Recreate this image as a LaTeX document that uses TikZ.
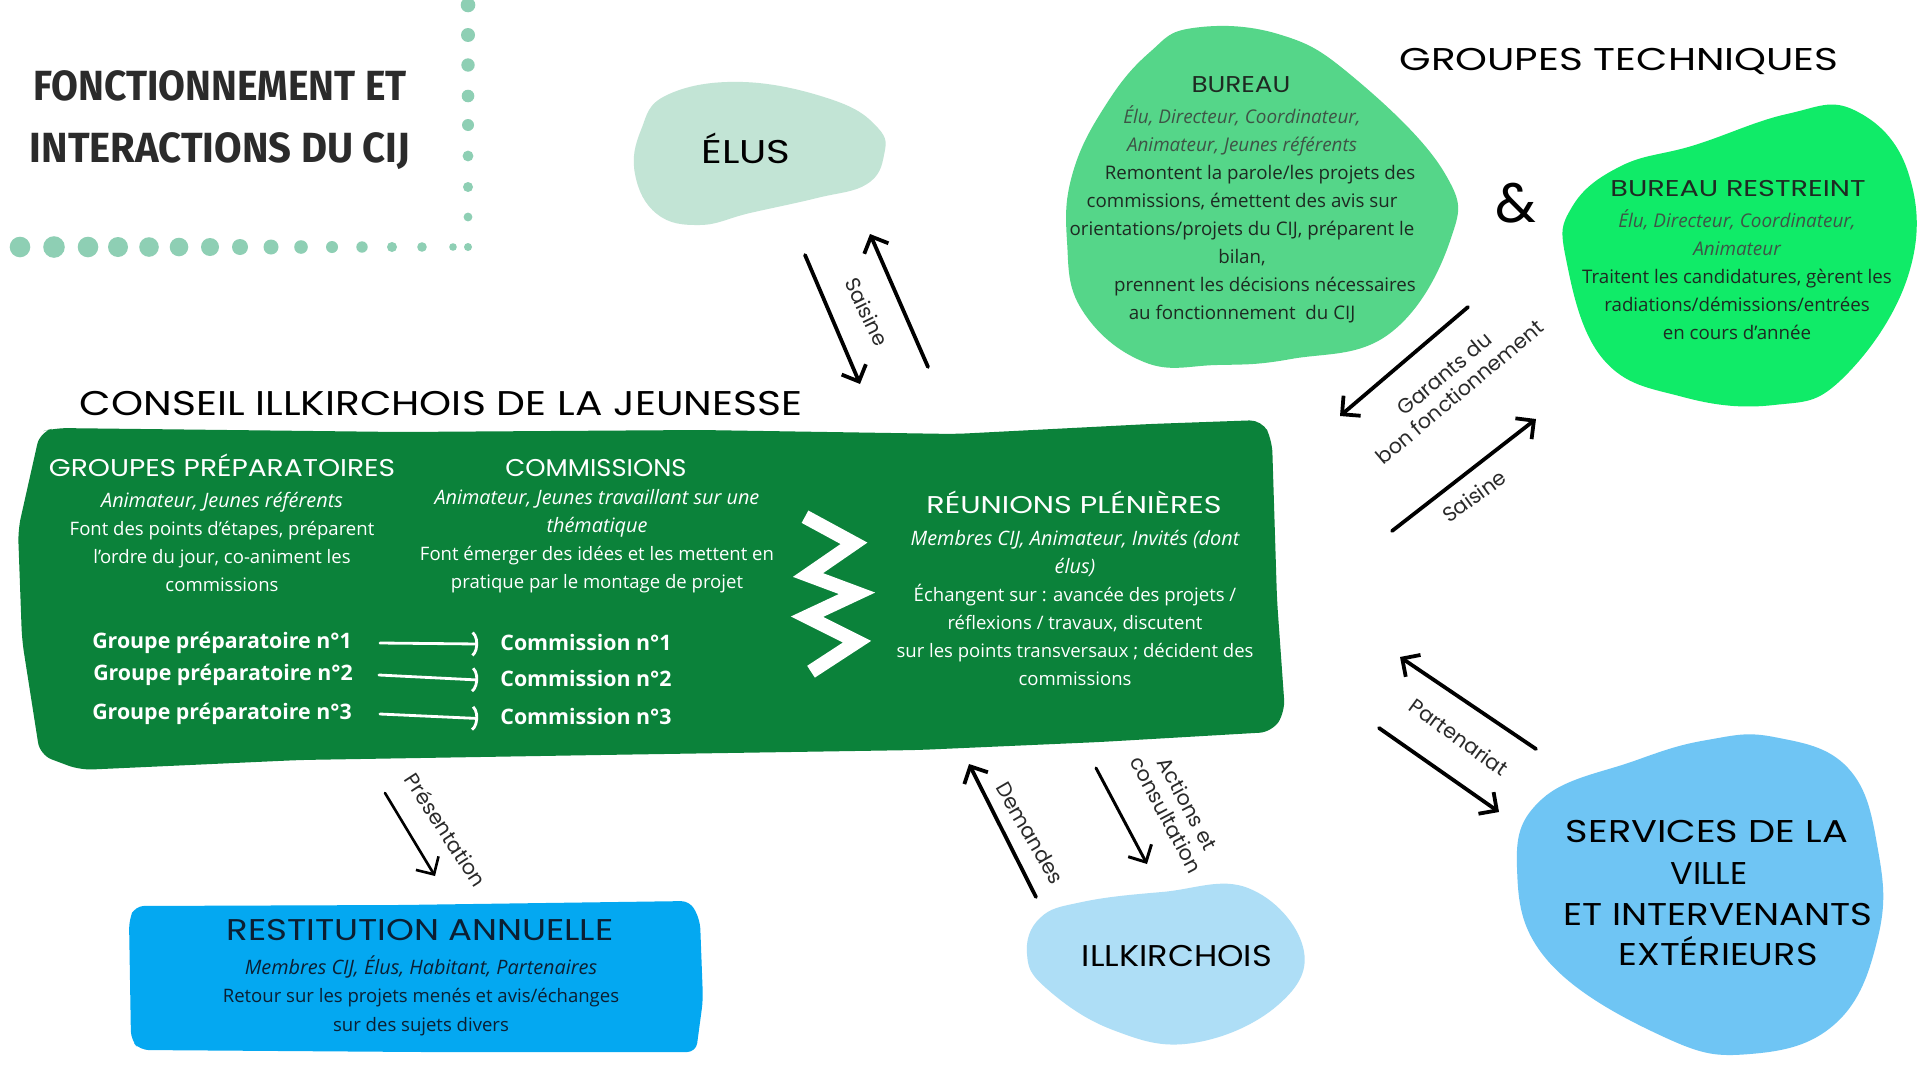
\documentclass[tikz,border=0pt]{standalone}
\usepackage{fontspec}
\usepackage{graphicx}
\setmainfont{Open Sans}
\newfontfamily\headfont{Poppins}
\newfontfamily\titlefont{Fira Sans}
\usetikzlibrary{arrows.meta}
\newlength\pxu \setlength\pxu{1.1381pt}
\newcommand\hw[2]{\resizebox{#1\pxu}{\height}{#2}}
\newcommand\itA{\fontsize{22.6}{31.9}\selectfont\itshape}
\newcommand\itB{\fontsize{21.5}{31.9}\selectfont\itshape}
\definecolor{dotc}{HTML}{8ECFB4}
\definecolor{mainG}{HTML}{0B823A}
\definecolor{bureauG}{HTML}{55D689}
\definecolor{restrG}{HTML}{10EB68}
\definecolor{elusC}{HTML}{C2E4D5}
\definecolor{illkC}{HTML}{AEDEF6}
\definecolor{servC}{HTML}{6FC5F4}
\definecolor{restiC}{HTML}{04A8F1}
\definecolor{titleC}{HTML}{2B2B2B}
\definecolor{itaG}{HTML}{3E5446}
\definecolor{bodyG}{HTML}{1E2A22}
\definecolor{navy}{HTML}{0B1F33}
\definecolor{labelc}{HTML}{2A2A2A}
\tikzset{
  blk/.style={line width=4.3pt, line cap=round, -{Straight Barb[length=15pt,width=30pt]}},
  wht/.style={white, line width=3.2pt, line cap=round, -{Arc Barb[arc=130,length=10pt,width=32pt]}},
  lbl/.style={font={\headfont\fontsize{23.5}{27}\selectfont}, text=labelc, align=center, inner sep=0pt},
  bighead/.style={anchor=base, inner sep=0pt, text=black},
  whead/.style={anchor=base, inner sep=0pt, text=white, font={\headfont\fontsize{27.6}{30}\selectfont}},
  wtext/.style={text=white, align=center, inner sep=0pt, font={\fontsize{21.1}{31.9}\selectfont}},
  wbold/.style={text=white, inner sep=0pt, font={\bfseries\fontsize{24.3}{28}\selectfont}},
  gtext/.style={text=bodyG, align=center, inner sep=0pt, font={\fontsize{21.3}{31.9}\selectfont}},
  ttl/.style={anchor=base, inner sep=0pt, text=titleC, font={\titlefont\bfseries\fontsize{48}{52}\selectfont}}
}
\begin{document}
\begin{tikzpicture}[x=0.04cm,y=-0.04cm]
\useasboundingbox (0,0) rectangle (1920,1080);
\fill[white] (0,0) rectangle (1920,1080);

% decorative dots
\foreach \yy/\rr in {5/7.3,35/7,65/6.7,96/6.3,125/6,156/5.4,187/5,217/4.4}
  \fill[dotc] (468,\yy) circle (\rr);
\foreach \xx/\rr in {20/10.3,54/10.8,88/10.3,118/10,149/9.8,179/9.3,210/9,240/8,271/7.5,301/6.8,332/6,362/5.7,392/5,422/4.8,453/3.8,468/4}
  \fill[dotc] (\xx,247) circle (\rr);

% title
\node[ttl] (t1) at (220,100.5) {\hw{373}{FONCTIONNEMENT ET}};
\node[ttl] (t2) at (220,162.5) {\hw{380}{INTERACTIONS DU CIJ}};

% blobs
\fill[elusC] plot[smooth cycle, tension=0.7] coordinates {(667,95) (743,82) (833,100) (878,128) (884,155) (867,184) (817,198) (750,213) (700,225) (657,214) (635,174) (641,130)};
\fill[bureauG] plot[smooth cycle, tension=0.7] coordinates {(1193,28) (1278,34) (1352,76) (1444,172) (1450,241) (1389,334) (1291,359) (1217,365) (1144,362) (1082,310) (1067,241) (1073,172) (1107,103) (1150,52)};
\fill[restrG] plot[smooth cycle, tension=0.7] coordinates {(1854,110) (1908,172) (1908,276) (1842,379) (1774,405) (1683,397) (1603,359) (1566,259) (1572,207) (1621,166) (1695,145) (1787,114)};
\fill[illkC] plot[smooth cycle, tension=0.7] coordinates {(1082,902) (1162,892) (1248,888) (1303,947) (1278,1005) (1193,1043) (1113,1030) (1046,988) (1027,954) (1040,918)};
\fill[servC] plot[smooth cycle, tension=0.7] coordinates {(1774,737) (1848,768) (1878,850) (1878,937) (1836,1023) (1750,1054) (1664,1037) (1548,961) (1517,868) (1542,799) (1634,761) (1707,740)};

% main green box
\fill[mainG, rounded corners=14] (55,428) -- (400,432) -- (700,430) -- (955,434) -- (1150,424) -- (1262,420) -- (1272,440) -- (1277,600) -- (1285,712) -- (1272,732) -- (1100,742) -- (918,750) -- (600,755) -- (300,760) -- (80,770) -- (40,755) -- (22,640) -- (18,530) -- (40,432) -- cycle;

% restitution box
\fill[restiC, rounded corners=10] (135,906) -- (400,905) -- (690,901) -- (700,920) -- (703,1000) -- (696,1052) -- (420,1052) -- (140,1050) -- (131,1040) -- (129,920) -- cycle;

% headings
\node[bighead, font={\headfont\fontsize{39}{42}\selectfont}] (cij) at (441,415) {\hw{722}{CONSEIL ILLKIRCHOIS DE LA JEUNESSE}};
\node[bighead, font={\headfont\fontsize{37.4}{40}\selectfont}] (elus) at (746,163.5) {\hw{89}{ÉLUS}};
\node[bighead, font={\headfont\fontsize{35.8}{40}\selectfont}] (gtech) at (1619,70) {\hw{439}{GROUPES TECHNIQUES}};
\node[inner sep=0pt, font={\headfont\fontsize{63}{66}\selectfont}] (amp) at (1516,203) {\&};

% bureau
\node[bighead, text=bodyG, font={\headfont\fontsize{26}{30}\selectfont}] (bur) at (1241,92.5) {\hw{99}{BUREAU}};
\node[gtext] (burt) at (1242,214.5) {{\color{itaG}\itB Élu, Directeur, Coordinateur,}\\{\color{itaG}\itB Animateur, Jeunes référents}\\\hspace*{36\pxu}Remontent la parole/les projets des\\commissions, émettent des avis sur\\orientations/projets du CIJ, préparent le\\bilan,\\\hspace*{46\pxu}prennent les décisions nécessaires\\au fonctionnement\ \ du CIJ};

% bureau restreint
\node[bighead, text=bodyG, font={\headfont\fontsize{26}{30}\selectfont}] (bres) at (1738,196) {\hw{255}{BUREAU RESTREINT}};
\node[gtext] (brest) at (1737,275) {{\color{itaG}\itB Élu, Directeur, Coordinateur,}\\{\color{itaG}\itB Animateur}\\Traitent les candidatures, gèrent les\\radiations/démissions/entrées\\en cours d’année};

% inside main box
\node[whead] (gph) at (222,476.5) {\hw{346}{GROUPES PRÉPARATOIRES}};
\node[wtext] (gpt) at (222,542) {{\itA Animateur, Jeunes référents}\\Font des points d’étapes, préparent\\l'ordre du jour, co-animent les\\commissions};
\node[whead] (comh) at (596,476.5) {\hw{181}{COMMISSIONS}};
\node[wtext] (comt) at (597,541.6) {{\itA Animateur, Jeunes travaillant sur une}\\{\itA thématique}\\Font émerger des idées et les mettent en\\pratique par le montage de projet};
\node[whead] (reuh) at (1074,513.5) {\hw{295}{RÉUNIONS PLÉNIÈRES}};
\node[wtext] (reut) at (1075,608) {{\itA Membres CIJ, Animateur, Invités (dont}\\{\itA élus)}\\Échangent sur : avancée des projets /\\réflexions / travaux, discutent\\sur les points transversaux ; décident des\\commissions};

\node[wbold] (g1) at (222,643) {Groupe préparatoire n°1};
\node[wbold] (g2) at (223,675) {Groupe préparatoire n°2};
\node[wbold] (g3) at (222,714) {Groupe préparatoire n°3};
\node[wbold] (c1) at (586,642) {Commission n°1};
\node[wbold] (c2) at (586,678) {Commission n°2};
\node[wbold] (c3) at (586,716.5) {Commission n°3};
\path (g1.east) ++(28,0) coordinate (g1a) (c1.west) ++(-22,2) coordinate (c1a);
\draw[wht] (g1a) -- (c1a);
\path (g2.east) ++(26,0) coordinate (g2a) (c2.west) ++(-22,2) coordinate (c2a);
\draw[wht] (g2a) -- (c2a);
\path (g3.east) ++(28,0) coordinate (g3a) (c3.west) ++(-22,2) coordinate (c3a);
\draw[wht] (g3a) -- (c3a);

% zigzag
\draw[white, line width=16pt, line join=miter, miter limit=10] (805,516.7) -- (854,543.3) -- (808,575) -- (857,593.3) -- (807,616.7) -- (857,641.7) -- (811,671.7);

% restitution text
\node[bighead, text=navy, font={\headfont\fontsize{34.1}{38}\selectfont}] (resh) at (420,940.5) {\hw{387}{RESTITUTION ANNUELLE}};
\node[inner sep=0pt, align=center, text=navy, font={\fontsize{21.1}{31.9}\selectfont}] (rest) at (421,995.8) {{\itA Membres CIJ, Élus, Habitant, Partenaires}\\Retour sur les projets menés et avis/échanges\\sur des sujets divers};

% illkirchois & services
\node[bighead, font={\headfont\fontsize{34.1}{38}\selectfont}] (illk) at (1177,966) {\hw{190}{ILLKIRCHOIS}};
\node[bighead, font={\headfont\fontsize{35.8}{40}\selectfont}] (sv1) at (1707,842) {\hw{282}{SERVICES DE LA}};
\node[bighead, font={\headfont\fontsize{35.8}{40}\selectfont}] (sv2) at (1709,884) {\hw{77}{VILLE}};
\node[bighead, font={\headfont\fontsize{35.8}{40}\selectfont}] (sv3) at (1718,925) {\hw{309}{ET INTERVENANTS}};
\node[bighead, font={\headfont\fontsize{35.8}{40}\selectfont}] (sv4) at (1718,965) {\hw{199}{EXTÉRIEURS}};

% arrow end points
\coordinate (ea1) at (805,255); \coordinate (eb1) at (860,384);
\coordinate (ea2) at (928,367); \coordinate (eb2) at (870,234);
\coordinate (ga) at (1468,307); \coordinate (gb) at (1340,416);
\coordinate (sa) at (1392,531); \coordinate (sb) at (1536,419);
\coordinate (pa) at (385,793); \coordinate (pb) at (435,876);
\coordinate (da) at (1036,897); \coordinate (db) at (969,764);
\coordinate (aa) at (1096,768); \coordinate (ab) at (1147,864);
\coordinate (pta) at (1536,749); \coordinate (ptb) at (1400,657);
\coordinate (pua) at (1379,728); \coordinate (pub) at (1499,812);

\draw[blk] (ea1) -- (eb1);
\draw[blk] (ea2) -- (eb2);
\draw[blk] (ga) -- (gb);
\draw[blk] (sa) -- (sb);
\draw[blk, line width=3pt] (pa) -- (pb);
\draw[blk] (da) -- (db);
\draw[blk, line width=3.4pt] (aa) -- (ab);
\draw[blk] (pta) -- (ptb);
\draw[blk] (pua) -- (pub);

% labels
\node[lbl, rotate=-64] (l1) at (867,312) {Saisine};
\node[lbl, rotate=40] (l2) at (1452,383) {Garants du\\bon fonctionnement};
\node[lbl, rotate=36] (l3) at (1474,496) {Saisine};
\node[lbl, rotate=-57] (l4) at (446,830) {Présentation};
\node[lbl, rotate=-60] (l5) at (1030,833) {Demandes};
\node[lbl, rotate=-62] (l6) at (1177,809) {Actions et\\consultation};
\node[lbl, rotate=-36] (l7) at (1459,737) {Partenariat};
\end{tikzpicture}
\end{document}
